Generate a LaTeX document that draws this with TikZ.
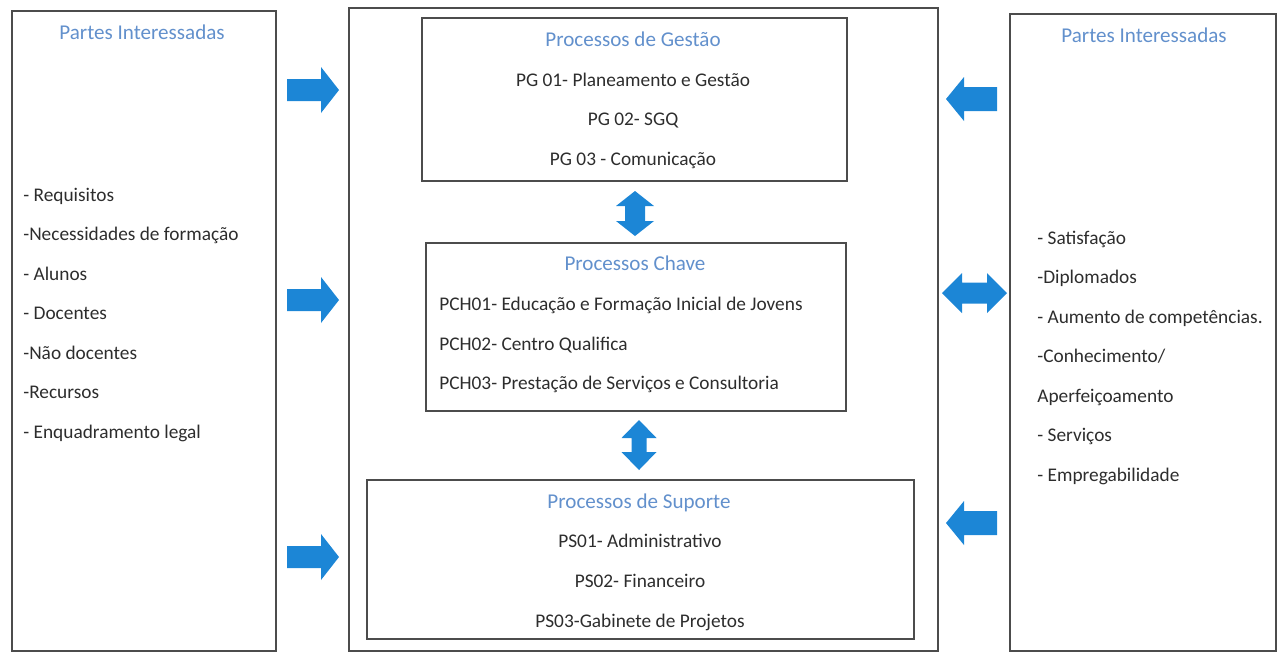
\documentclass[tikz,border=0pt]{standalone}
\usepackage{fontspec}
\setmainfont{Carlito}
\usepackage{tikz}
\definecolor{setaazul}{RGB}{28,134,214}
\definecolor{tituloazul}{RGB}{98,144,204}
\definecolor{texto}{RGB}{45,45,45}
\begin{document}
\begin{tikzpicture}[x=0.02cm,y=-0.02cm,
	caixa/.style={draw=black!70, line width=0.8pt, inner sep=0pt},
	titulo/.style={text=tituloazul, font=\fontsize{12}{14}\selectfont, text height=8pt, text depth=2.5pt, inner sep=0pt, yshift=-1.6pt},
	item/.style={text=texto, font=\fontsize{11}{13}\selectfont, text height=7.5pt, text depth=2.5pt, inner sep=0pt, yshift=-1.1pt},
	seta/.style={fill=setaazul}]
			\useasboundingbox (0,0) rectangle (1278,654);
			% Caixas exteriores
			\node[caixa, minimum width=5.28cm, minimum height=12.8cm] (esq) at (144,331) {};
			\node[caixa, minimum width=11.78cm, minimum height=12.86cm] (centro) at (643.5,329.5) {};
			\node[caixa, minimum width=5.32cm, minimum height=12.74cm] (dir) at (1143,332.5) {};
			% Caixas dos processos
			\node[caixa, minimum width=8.5cm, minimum height=3.26cm] (gestao) at (634.5,99.5) {};
			\node[caixa, minimum width=8.4cm, minimum height=3.36cm] (chave) at (636,327) {};
			\node[caixa, minimum width=10.94cm, minimum height=3.18cm] (suporte) at (640.5,559.5) {};
			% Titulos
			\node[titulo] (tesq) at (142,32) {Partes Interessadas};
			\node[titulo] (tdir) at (1144,35) {Partes Interessadas};
			\node[titulo] (tgestao) at (633,39) {Processos de Gestão};
			\node[titulo] (tchave) at (635,263) {Processos Chave};
			\node[titulo] (tsuporte) at (639,501) {Processos de Suporte};
			% Processos de Gestao
			\node[item] (pg1) at (633,80) {PG 01- Planeamento e Gestão};
			\node[item] (pg2) at (633,119) {PG 02- SGQ};
			\node[item] (pg3) at (633,159) {PG 03 - Comunicação};
			% Processos Chave
			\node[item, anchor=west] (pch1) at (439,304) {PCH01- Educação e Formação Inicial de Jovens};
			\node[item, anchor=west] (pch2) at (439,344) {PCH02- Centro Qualifica};
			\node[item, anchor=west] (pch3) at (439,383) {PCH03- Prestação de Serviços e Consultoria};
			% Processos de Suporte
			\node[item] (ps1) at (640,541) {PS01- Administrativo};
			\node[item] (ps2) at (640,581) {PS02- Financeiro};
			\node[item] (ps3) at (640,621) {PS03-Gabinete de Projetos};
			% Listas das partes interessadas
			\foreach \txt [count=\i] in {- Requisitos, -Necessidades de formação, - Alunos, - Docentes, -Não docentes, -Recursos, - Enquadramento legal} {
			\node[item, anchor=west] (le\i) at (23,{195+39.5*(\i-1)}) {\txt};
			}
			\foreach \txt [count=\i] in {- Satisfação, -Diplomados, - Aumento de competências., -Conhecimento/, Aperfeiçoamento, - Serviços, - Empregabilidade} {
			\node[item, anchor=west] (ld\i) at (1037,{238+39.5*(\i-1)}) {\txt};
			}
			% Setas da esquerda
			\foreach \y in {90,300,557} {
			\fill[seta] (287,\y-11) -- (321,\y-11) -- (321,\y-23) -- (339,\y) -- (321,\y+23) -- (321,\y+11) -- (287,\y+11) -- cycle;
			}
			% Setas da direita
			\foreach \y in {99,523} {
			\fill[seta] (997,\y-12) -- (964,\y-12) -- (964,\y-22) -- (946,\y) -- (964,\y+22) -- (964,\y+12) -- (997,\y+12) -- cycle;
			}
			\fill[seta] (942,293) -- (962,273) -- (962,282.5) -- (987,282.5) -- (987,273) -- (1007,293) -- (987,313) -- (987,303.5) -- (962,303.5) -- (962,313) -- cycle;
			% Setas verticais
			\fill[seta] (635,191) -- (654,206) -- (645,206) -- (645,221) -- (654,221) -- (635,236) -- (616,221) -- (625,221) -- (625,206) -- (616,206) -- cycle;
			\fill[seta] (639,420) -- (656.5,438) -- (646.5,438) -- (646.5,452) -- (656.5,452) -- (639,470) -- (621.5,452) -- (631.5,452) -- (631.5,438) -- (621.5,438) -- cycle;
		\end{tikzpicture}
\end{document}
